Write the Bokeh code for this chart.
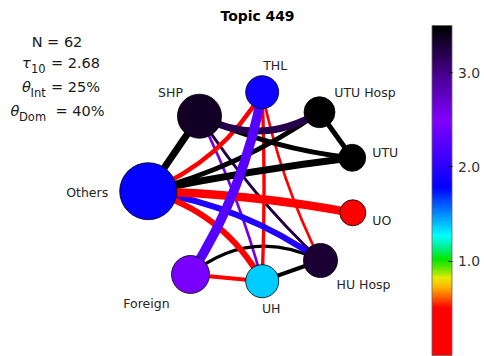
import numpy as np
from bokeh.plotting import figure
from bokeh.models import (ColumnDataSource, Range1d, Label, ColorBar,
                          LinearColorMapper, FixedTicker, PrintfTickFormatter)
from bokeh.core.properties import value
from bokeh.embed import file_html
from bokeh.resources import INLINE

# ---------------- data ----------------
title_text = "Topic 449"
stat_n = "N = 62"
stat_tau = "2.68"
stat_int = "25%"
stat_dom = "40%"

nodes = ["THL", "UTU Hosp", "UTU", "UO", "HU Hosp", "UH", "Foreign", "Others", "SHP"]
node_x = [0.037, 0.61, 0.937, 0.943, 0.62, 0.037, -0.68, -1.103, -0.59]
node_y = [0.983, 0.783, 0.327, -0.223, -0.70, -0.907, -0.84, -0.007, 0.743]
node_value = [1.85, 3.5, 3.5, 0.3, 3.3, 1.38, 2.45, 1.8, 3.35]
node_weight = [10.9, 9.6, 7.3, 6.8, 11.6, 10.9, 14.4, 32.5, 19.4]

edge_source = ["SHP", "SHP", "SHP", "SHP", "SHP", "THL", "THL", "THL", "THL",
               "Others", "Others", "Others", "Others", "Others", "UTU Hosp",
               "Foreign", "Foreign", "UH"]
edge_target = ["Others", "UTU Hosp", "UTU", "HU Hosp", "UH", "Others", "Foreign", "UH", "HU Hosp",
               "UTU Hosp", "UTU", "UO", "HU Hosp", "UH", "UTU",
               "UH", "HU Hosp", "HU Hosp"]
edge_value = [3.5, 3.2, 3.5, 3.25, 2.6, 0.2, 2.25, 0.2, 0.2,
              3.5, 3.5, 0.2, 1.95, 0.2, 3.5,
              0.2, 3.5, 3.5]
edge_weight = [7, 7, 5, 3, 2.7, 4.5, 9.5, 3.4, 2.7,
               5, 7, 8.4, 6, 6, 5,
               4, 3, 4]

cbar_ticks = [1.0, 2.0, 3.0]
color_low, color_high = 0.0, 3.5

# ---------------- style ----------------
edge_bend = [0.0, -0.28, -0.08, -0.06, 0.05, 0.17, 0.10, 0.02, -0.066,
             -0.09, 0.02, 0.04, 0.12, 0.21, 0.0,
             0.0, 0.32, 0.0]
label_dx = [13, 45.5, 33, 29, 43, 9, -44, -61, -29]
label_dy = [-27, -20, -5, 8, 24, 27, 29, 1, -24]

anchors = [
    (0.00, (255, 0, 0)), (0.50, (255, 0, 0)), (0.62, (255, 100, 0)),
    (0.72, (255, 180, 0)), (0.82, (230, 235, 0)), (0.92, (100, 230, 0)),
    (1.02, (0, 230, 0)), (1.15, (0, 240, 150)), (1.27, (0, 255, 255)),
    (1.50, (0, 140, 255)), (1.78, (0, 0, 255)), (2.10, (60, 0, 255)),
    (2.50, (128, 0, 255)), (2.95, (75, 0, 150)), (3.20, (40, 0, 80)),
    (3.50, (0, 0, 0)),
]
av = np.array([a[0] for a in anchors])
ac = np.array([a[1] for a in anchors], dtype=float)
grid = np.linspace(color_low, color_high, 256)
palette = []
for g in grid:
    r = np.interp(g, av, ac[:, 0]); gg = np.interp(g, av, ac[:, 1]); b = np.interp(g, av, ac[:, 2])
    palette.append("#%02x%02x%02x" % (int(round(r)), int(round(gg)), int(round(b))))
mapper = LinearColorMapper(palette=palette, low=color_low, high=color_high)

W, H = 484, 356
XR = (-2.58, 2.26)
YR = (-1.66, 1.90)

p = figure(width=W, height=H, x_range=Range1d(*XR), y_range=Range1d(*YR),
           toolbar_location=None, output_backend="svg", min_border=0,
           x_axis_location=None, y_axis_location=None)
p.grid.visible = False
p.outline_line_color = None
p.background_fill_color = "white"
p.border_fill_color = "white"

# edges
pos = {n: (x, y) for n, x, y in zip(nodes, node_x, node_y)}
rows = []
for s, t, v, w, c in zip(edge_source, edge_target, edge_value, edge_weight, edge_bend):
    x0, y0 = pos[s]; x1, y1 = pos[t]
    dx, dy = x1 - x0, y1 - y0
    cx = (x0 + x1) / 2 - c * dy
    cy = (y0 + y1) / 2 + c * dx
    rows.append((w, x0, y0, x1, y1, cx, cy, v))
rows.sort(key=lambda r: r[0])
esrc = ColumnDataSource(dict(
    w=[r[0] for r in rows], x0=[r[1] for r in rows], y0=[r[2] for r in rows],
    x1=[r[3] for r in rows], y1=[r[4] for r in rows], cx=[r[5] for r in rows],
    cy=[r[6] for r in rows], v=[r[7] for r in rows]))
p.quadratic(x0="x0", y0="y0", x1="x1", y1="y1", cx="cx", cy="cy",
            line_color={"field": "v", "transform": mapper}, line_width="w",
            source=esrc)

# nodes
nsrc = ColumnDataSource(dict(x=node_x, y=node_y, v=node_value,
                             size=[10 * np.sqrt(wt) for wt in node_weight],
                             name=nodes, dx=label_dx, dy=label_dy))
p.scatter(x="x", y="y", size="size", fill_color={"field": "v", "transform": mapper},
          line_color="black", line_width=0.8, source=nsrc)
p.text(x="x", y="y", text="name", x_offset="dx", y_offset="dy",
       text_align="center", text_baseline="middle",
       text_font=value("DejaVu Sans"), text_font_size="12.5px",
       text_color="#262626", source=nsrc)

# annotations (pixel positions -> data)
def px2d(px, py):
    return XR[0] + px / W * (XR[1] - XR[0]), YR[1] - py / H * (YR[1] - YR[0])

def lab(txt, px, py, size, align="left", style="normal", baseline="alphabetic", color="#1a1a1a"):
    x, y = px2d(px, py)
    p.add_layout(Label(x=x, y=y, text=txt, text_font="DejaVu Sans", text_font_size=size,
                       text_align=align, text_baseline=baseline, text_font_style=style,
                       text_color=color))

lab(title_text, 257, 15, "13.9px", align="center", style="bold", baseline="middle", color="black")
lab(stat_n, 56.5, 41.5, "14.5px", align="center")
lab("\u03c4", 21.5, 62.5, "14.5px", style="italic")
lab("10", 30.5, 68, "11.5px")
lab("= " + stat_tau, 50.5, 62.5, "14.5px")
lab("\u03b8", 21.5, 86.5, "14.5px", style="italic")
lab("Int", 30, 92, "11.5px")
lab("= " + stat_int, 50.5, 86.5, "14.5px")
lab("\u03b8", 10, 110.5, "14.5px", style="italic")
lab("Dom", 18.5, 116, "11.5px")
lab("= " + stat_dom, 55, 110.5, "14.5px")

cb = ColorBar(color_mapper=mapper, location=(431.5, 1), orientation="vertical",
              width=20, height=330, padding=0, margin=0,
              ticker=FixedTicker(ticks=cbar_ticks),
              formatter=PrintfTickFormatter(format="%.1f"),
              major_label_text_font_size="13.9px", major_label_text_font="DejaVu Sans",
              major_label_text_color="#333333",
              major_tick_in=4, major_tick_out=0, major_tick_line_color="black",
              minor_tick_line_color=None, bar_line_color="#666666", bar_line_width=0.8,
              label_standoff=6, background_fill_color=None, border_line_color=None)
p.add_layout(cb)

open("out.html", "w").write(file_html(p, INLINE))
